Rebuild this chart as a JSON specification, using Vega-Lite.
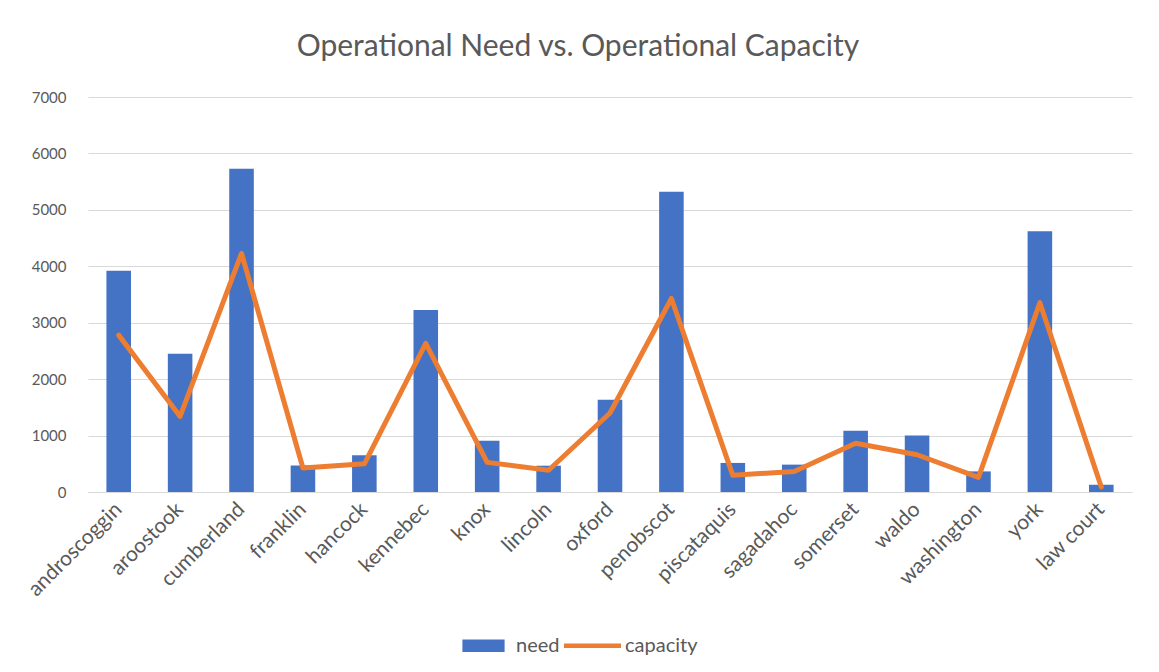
{
  "$schema": "https://vega.github.io/schema/vega-lite/v6.json",
  "autosize": {"type": "none"},
  "width": 1044,
  "height": 395,
  "padding": {"left": 88, "right": 27, "top": 97, "bottom": 180},
  "background": "white",
  "config": {
    "font": "Lato",
    "view": {"stroke": null},
    "axis": {"labelColor": "#595959", "labelFont": "Lato", "titleColor": "#595959"}
  },
  "title": {
    "text": "Operational Need vs. Operational Capacity",
    "fontSize": 30,
    "font": "Lato",
    "fontWeight": "normal",
    "color": "#595959",
    "anchor": "middle",
    "frame": "bounds",
    "offset": 28
  },
  "data": {
    "values": [
      {"county": "androscoggin", "need": 3920, "capacity": 2780},
      {"county": "aroostook", "need": 2450, "capacity": 1340},
      {"county": "cumberland", "need": 5730, "capacity": 4230},
      {"county": "franklin", "need": 470, "capacity": 425},
      {"county": "hancock", "need": 650, "capacity": 500},
      {"county": "kennebec", "need": 3225, "capacity": 2635},
      {"county": "knox", "need": 910, "capacity": 525},
      {"county": "lincoln", "need": 466, "capacity": 385},
      {"county": "oxford", "need": 1635, "capacity": 1400},
      {"county": "penobscot", "need": 5320, "capacity": 3430},
      {"county": "piscataquis", "need": 515, "capacity": 295},
      {"county": "sagadahoc", "need": 485, "capacity": 365},
      {"county": "somerset", "need": 1085, "capacity": 865},
      {"county": "waldo", "need": 1000, "capacity": 660},
      {"county": "washington", "need": 365, "capacity": 260},
      {"county": "york", "need": 4620, "capacity": 3355},
      {"county": "law court", "need": 130, "capacity": 90}
    ]
  },
  "encoding": {
    "x": {
      "field": "county",
      "type": "nominal",
      "sort": null,
      "scale": {"paddingInner": 0.6, "paddingOuter": 0.3},
      "axis": {
        "title": null,
        "labelAngle": -45,
        "labelAlign": "right",
        "labelBaseline": "middle",
        "labelFontSize": 21,
        "labelPadding": 14,
        "ticks": false,
        "domainColor": "#D9D9D9",
        "domainWidth": 1,
        "grid": false
      }
    }
  },
  "layer": [
    {
      "mark": {"type": "bar", "color": "#4472C4"},
      "encoding": {
        "y": {
          "field": "need",
          "type": "quantitative",
          "scale": {"domain": [0, 7000]},
          "axis": {
            "title": null,
            "values": [0, 1000, 2000, 3000, 4000, 5000, 6000, 7000],
            "format": "d",
            "labelFontSize": 15,
            "labelPadding": 22,
            "ticks": false,
            "domain": false,
            "gridColor": "#D9D9D9",
            "gridWidth": 1
          }
        },
        "color": {
          "datum": "need",
          "type": "nominal",
          "scale": {"domain": ["need", "capacity"], "range": ["#4472C4", "#ED7D31"]},
          "legend": {
            "title": null,
            "orient": "none",
            "direction": "horizontal",
            "legendX": 367,
            "legendY": 520,
            "labelFontSize": 20,
            "labelColor": "#595959",
            "labelFont": "Lato",
            "symbolSize": 3249,
            "columnPadding": 4,
            "labelOffset": 4,
            "encode": {
              "symbols": {
                "update": {
                  "shape": {"signal": "datum.value === 'need' ? 'M-0.74,-0.22H0.74V0.22H-0.74Z' : 'M-1,-0.08H1V0.08H-1Z'"},
                  "fill": {"signal": "datum.value === 'need' ? '#4472C4' : '#ED7D31'"},
                  "strokeWidth": {"value": 0},
                  "opacity": {"value": 1}
                }
              }
            }
          }
        }
      }
    },
    {
      "mark": {"type": "line", "color": "#ED7D31", "strokeWidth": 5, "strokeJoin": "round", "strokeCap": "round"},
      "encoding": {
        "y": {"field": "capacity", "type": "quantitative"},
        "color": {"datum": "capacity", "type": "nominal"}
      }
    }
  ]
}
